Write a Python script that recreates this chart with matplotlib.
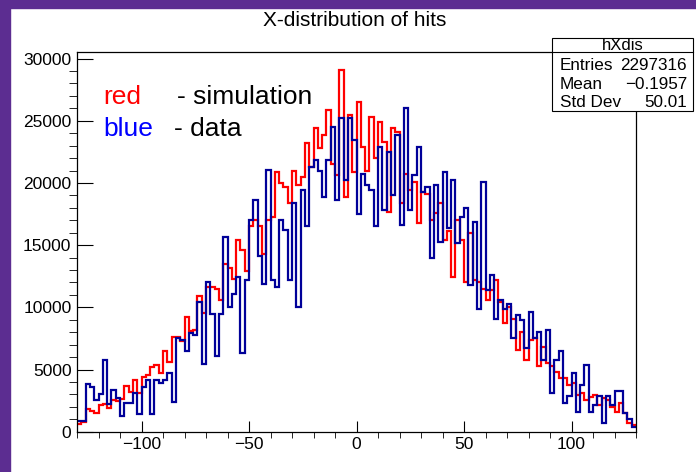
import numpy as np
import matplotlib
matplotlib.use('Agg')
import matplotlib.pyplot as plt
from matplotlib.patches import Rectangle
from matplotlib.ticker import MultipleLocator

plt.rcParams['font.family'] = ['Liberation Sans', 'DejaVu Sans']

# 130 bins of width 2 from -130 to 130
x_lo, x_hi, n_bins = -130, 130, 130

# simulation (red)
sim_counts = [
    620, 800, 1800, 1700, 1500, 2150, 2200, 1900, 2550, 2500,
    2600, 3700, 3200, 4150, 3100, 4400, 4550, 5200, 5350, 4700,
    6500, 5600, 7600, 7600, 7300, 9200, 8100, 8200, 10900, 9550,
    11600, 11650, 11500, 10600, 13500, 13200, 12300, 15400, 14600, 12950,
    16500, 17000, 16500, 14300, 17000, 17300, 20900, 20000, 19700, 18350,
    21000, 19850, 20500, 23200, 21300, 24400, 22800, 23850, 25850, 21550,
    20650, 29100, 18900, 25450, 20900, 26500, 22900, 21000, 25300, 22000,
    24900, 23300, 17700, 24400, 24100, 18350, 20750, 19450, 20100, 16750,
    19300, 19150, 17000, 17550, 18350, 15400, 16100, 12450, 17000, 15400,
    12050, 15950, 12200, 12050, 11500, 10600, 11400, 12200, 10450, 8700,
    10050, 9100, 6550, 8050, 5750, 7350, 7500, 5250, 6850, 5500,
    5250, 4800, 4300, 4300, 3750, 3900, 2950, 3100, 2550, 2800,
    2950, 2150, 2700, 2550, 2000, 1600, 2300, 1500, 700, 550,
]

# data (blue)
data_counts = [
    900, 900, 3850, 3600, 2550, 3000, 5750, 2250, 3350, 2700,
    1250, 2300, 2300, 3100, 1450, 3600, 4150, 1450, 4150, 3900,
    4150, 4700, 2400, 7500, 7350, 6450, 7900, 7750, 10450, 5450,
    12050, 9500, 6050, 9500, 15650, 10000, 11100, 12450, 6300, 12200,
    17000, 18600, 14100, 11900, 21050, 12200, 11650, 17000, 16200, 12200,
    18350, 10000, 19450, 16500, 21300, 21850, 21000, 18900, 21850, 24500,
    18600, 25200, 20250, 25200, 23450, 17500, 20750, 19850, 19450, 16500,
    22900, 17850, 22500, 19050, 23850, 16650, 26000, 17850, 20650, 22900,
    19300, 19700, 13950, 19850, 15250, 20900, 16350, 20250, 15150, 17300,
    17950, 11800, 16900, 9900, 20100, 11400, 12600, 9100, 10600, 9900,
    10300, 7500, 9400, 8950, 6700, 9650, 7500, 8050, 5750, 8150,
    3100, 5750, 6450, 2300, 2850, 4700, 1600, 3750, 5350, 1600,
    2150, 2850, 700, 2850, 2150, 3250, 3250, 1500, 1050, 400,
]

stats_rows = [("Entries", "2297316"), ("Mean", "\u22120.1957"), ("Std Dev", "50.01")]

W, H = 696, 472
fig = plt.figure(figsize=(W / 100, H / 100), dpi=100)
fig.patch.set_facecolor('white')

# purple canvas border (left and top)
purple = '#5c2d91'
fig.add_artist(Rectangle((0, 0), 10 / W, 1, transform=fig.transFigure,
                         color=purple, zorder=0))
fig.add_artist(Rectangle((0, 1 - 8 / H), 1, 8 / H, transform=fig.transFigure,
                         color=purple, zorder=0))

left, right, top, bottom = 77, 636, 52, 431.7
ax = fig.add_axes([left / W, 1 - bottom / H, (right - left) / W, (bottom - top) / H])

edges = np.linspace(x_lo, x_hi, n_bins + 1)
ax.stairs(sim_counts, edges, color='#ff0000', lw=1.6, baseline=None)
ax.stairs(data_counts, edges, color='#000099', lw=1.6, baseline=None)

ax.set_xlim(x_lo, x_hi)
ax.set_ylim(0, 30530)

ax.xaxis.set_major_locator(MultipleLocator(50))
ax.xaxis.set_minor_locator(MultipleLocator(10))
ax.yaxis.set_major_locator(MultipleLocator(5000))
ax.yaxis.set_minor_locator(MultipleLocator(1000))
ax.tick_params(axis='both', direction='in', width=0.8, labelsize=12.5,
               top=False, right=False)
ax.tick_params(axis='y', which='major', length=11.5, pad=4)
ax.tick_params(axis='y', which='minor', length=5.8)
ax.tick_params(axis='x', which='major', length=7.9, pad=4)
ax.tick_params(axis='x', which='minor', length=4)
for sp in ax.spines.values():
    sp.set_linewidth(0.9)

fig.text(355 / W, 1 - 20 / H, "X-distribution of hits", ha='center', va='center',
         fontsize=15)

# hand-written legend
fig.text(103 / W, 1 - 104 / H, "red", color='#ff0000', fontsize=19, va='baseline')
fig.text(177 / W, 1 - 104 / H, "- simulation", color='black', fontsize=19, va='baseline')
fig.text(103 / W, 1 - 136 / H, "blue", color='#0000ff', fontsize=19, va='baseline')
fig.text(174 / W, 1 - 136 / H, "- data", color='black', fontsize=19, va='baseline')

# stats box
bx0, bx1, by0, by1, hsep = 552, 693, 38, 111, 52
fig.add_artist(Rectangle((bx0 / W, 1 - by1 / H), (bx1 - bx0) / W, (by1 - by0) / H,
                         transform=fig.transFigure, facecolor='white',
                         edgecolor='black', lw=0.8, zorder=5))
fig.add_artist(plt.Line2D([bx0 / W, bx1 / W], [1 - hsep / H, 1 - hsep / H],
                          transform=fig.transFigure, color='black', lw=0.8, zorder=6))
fig.text((bx0 + bx1) / 2 / W, 1 - 45 / H, "hXdis", ha='center', va='center',
         fontsize=12, zorder=7)
for k, (name, val) in enumerate(stats_rows):
    yc = 1 - (66 + 18.3 * k) / H
    fig.text(560 / W, yc, name, ha='left', va='center', fontsize=12.3, zorder=7)
    fig.text(687 / W, yc, val, ha='right', va='center', fontsize=12.3, zorder=7)

fig.savefig('out.png', dpi=100)
